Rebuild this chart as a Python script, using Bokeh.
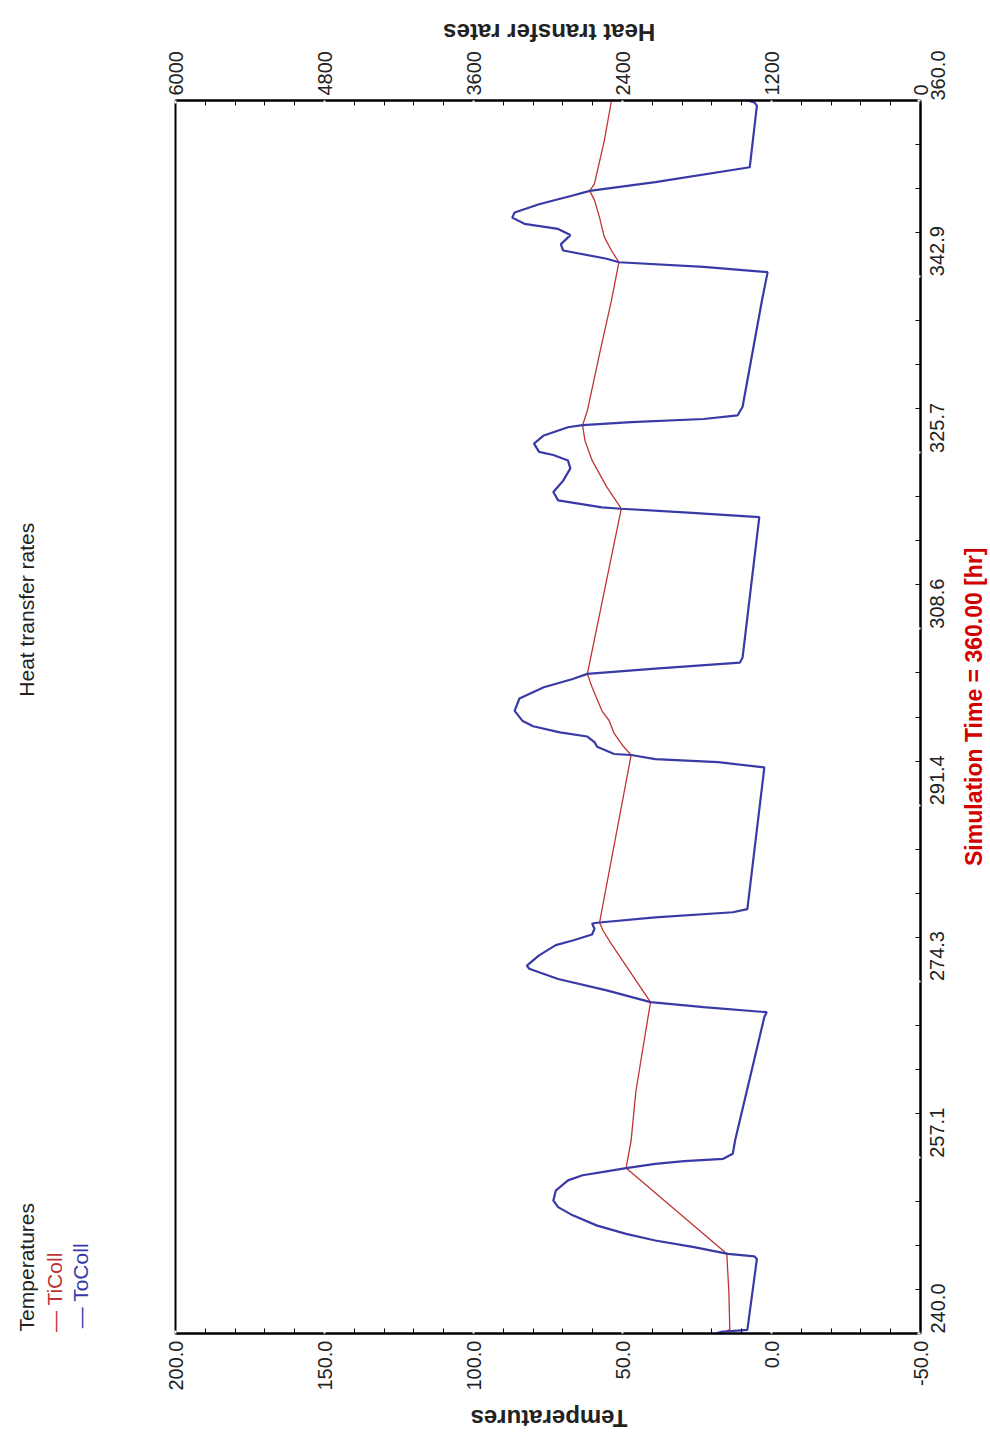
from math import pi
from bokeh.plotting import figure
from bokeh.models import Range1d, LinearAxis, FixedTicker, PrintfTickFormatter
from bokeh.embed import file_html
from bokeh.resources import INLINE

# ---- data ----
ti_time = [240.0, 240.4, 244.0, 247.75, 256.1, 258.8, 263.6, 272.25, 277.9, 279.2, 280.0,
           296.3, 297.1, 298.4, 299.66, 300.6, 302.9, 304.2, 320.27, 322.4, 324.97, 326.9,
           328.4, 329.8, 335.35, 340.54, 344.26, 345.4, 346.7, 348.6, 350.3, 351.2, 351.9,
           356.1, 360.0]
ti_temp = [16.5, 14.0, 14.3, 15.0, 48.8, 47.1, 45.5, 40.6, 53.7, 56.5, 57.7,
           47.1, 49.6, 52.8, 54.5, 56.9, 60.2, 61.8, 50.4, 55.3, 60.2, 62.6,
           63.4, 61.8, 57.7, 53.7, 51.2, 53.7, 56.1, 57.7, 59.4, 61.0, 59.4,
           56.1, 53.7]

to_time = [240.0, 240.15, 240.35, 247.26, 247.5, 247.75, 248.4, 249.05, 249.7, 250.5, 251.5,
           252.3, 252.94, 253.9, 254.9, 255.4, 255.7, 256.1, 256.5, 256.77, 257.0, 257.5,
           258.8, 270.8, 271.27, 271.76, 272.25, 273.4, 274.5, 275.5, 275.8, 276.8, 277.8,
           278.25, 278.83, 279.4, 279.9, 280.0, 280.5, 281.0, 281.3, 295.1, 295.6, 295.9,
           296.3, 296.4, 297.1, 297.55, 298.1, 298.5, 299.1, 299.6, 300.6, 301.8, 302.9,
           303.7, 304.2, 304.7, 305.3, 305.8, 319.45, 319.9, 320.27, 320.4, 321.08, 321.9,
           323.0, 324.2, 324.97, 325.5, 325.8, 326.6, 327.4, 328.2, 328.4, 328.7, 329.0,
           329.35, 330.2, 340.54, 343.3, 343.8, 344.26, 344.6, 345.4, 346.0, 346.9, 347.5,
           348.0, 348.6, 349.1, 349.9, 350.75, 351.2, 352.05, 353.5, 359.5, 359.8, 360.0]
to_temp = [19.0, 17.0, 8.1, 4.9, 5.7, 14.6, 26.0, 39.0, 48.8, 58.5, 66.7,
           71.6, 73.2, 72.4, 68.3, 63.4, 56.9, 48.8, 39.0, 29.3, 16.2, 13.0,
           12.2, 2.4, 1.6, 22.8, 40.6, 55.3, 71.6, 81.3, 82.1, 78.0, 72.4,
           66.7, 60.2, 59.4, 60.2, 57.7, 39.0, 13.0, 8.1, 2.4, 17.9, 39.0,
           47.1, 52.8, 58.5, 59.4, 61.8, 71.0, 80.0, 83.5, 86.2, 84.6, 76.4,
           66.7, 61.8, 39.0, 10.6, 9.7, 4.1, 28.0, 50.4, 56.9, 71.6, 73.2,
           69.9, 67.5, 68.3, 73.2, 78.0, 79.7, 76.4, 68.3, 63.4, 47.1, 22.8,
           11.4, 9.7, 3.2, 1.3, 22.8, 51.2, 55.3, 69.9, 70.7, 67.5, 71.6,
           82.9, 87.0, 86.2, 78.0, 66.7, 61.0, 39.0, 7.3, 4.9, 5.7, 8.1]

time_ticks = [240.0, 257.1, 274.3, 291.4, 308.6, 325.7, 342.9, 360.0]
temp_ticks = [200, 150, 100, 50, 0, -50]
heat_ticks = [6000, 4800, 3600, 2400, 1200, 0]

series_names = ["TiColl", "ToColl"]
series_colors = ["#c03434", "#3a3aa6"]

FONT = "Liberation Sans"

p = figure(frame_width=745, frame_height=1233,
           x_range=Range1d(200, -50), y_range=Range1d(240, 360),
           x_axis_location="below", y_axis_location="right",
           min_border_left=175, min_border_right=5, min_border_top=100, min_border_bottom=5,
           output_backend="svg", toolbar_location=None)
p.extra_x_ranges = {"heat": Range1d(6000, 0)}
heat_axis = LinearAxis(x_range_name="heat")
p.add_layout(heat_axis, "above")
temp_axis = p.below[0]
time_axis = p.right[0]

p.grid.visible = False
p.outline_line_color = "black"
p.outline_line_width = 2
p.background_fill_color = "white"
p.border_fill_color = "white"

def minor(ticks, n):
    out = []
    s = sorted(ticks)
    for a, b in zip(s[:-1], s[1:]):
        for k in range(1, n):
            out.append(a + (b - a) * k / n)
    return out

temp_axis.ticker = FixedTicker(ticks=temp_ticks, minor_ticks=minor(temp_ticks, 5))
temp_axis.formatter = PrintfTickFormatter(format="%.1f")
heat_axis.ticker = FixedTicker(ticks=heat_ticks, minor_ticks=minor(heat_ticks, 5))
heat_axis.formatter = PrintfTickFormatter(format="%d")
time_axis.ticker = FixedTicker(ticks=time_ticks, minor_ticks=minor(time_ticks, 4))
time_axis.formatter = PrintfTickFormatter(format="%.1f")

for ax in [temp_axis, heat_axis, time_axis]:
    ax.major_label_orientation = pi / 2
    ax.major_label_text_font = FONT
    ax.major_label_text_font_size = "20px"
    ax.major_label_text_color = "#222222"
    ax.major_label_standoff = 7
    ax.axis_line_width = 2
    ax.axis_line_color = "black"
    ax.major_tick_line_color = "white"
    ax.major_tick_line_width = 2
    ax.major_tick_in = 3
    ax.major_tick_out = 0
    ax.minor_tick_line_color = "black"
    ax.minor_tick_line_width = 1
    ax.minor_tick_in = 5
    ax.minor_tick_out = 0
heat_axis.major_label_standoff = 5
time_axis.major_label_standoff = 17

p.line(x=ti_temp, y=ti_time, color=series_colors[0], line_width=1.3)
p.line(x=to_temp, y=to_time, color=series_colors[1], line_width=2.2)

# texts outside the frame are written as tick labels of bare axes
def text_axis(side, labels, size, color, bold, orient, standoff):
    pos = list(labels.keys())
    ax = LinearAxis(ticker=FixedTicker(ticks=pos, minor_ticks=[]),
                    major_label_overrides=labels)
    ax.axis_line_color = None
    ax.major_tick_line_color = None
    ax.minor_tick_line_color = None
    ax.major_tick_in = 0
    ax.major_tick_out = 0
    ax.minor_tick_in = 0
    ax.minor_tick_out = 0
    ax.major_label_orientation = orient
    ax.major_label_standoff = standoff
    ax.major_label_text_font = FONT
    ax.major_label_text_font_size = size
    ax.major_label_text_color = color
    ax.major_label_text_font_style = "bold" if bold else "normal"
    p.add_layout(ax, side)
    return ax

# left: legend entries and plot title (stacked outward from the frame)
text_axis("left", {248.8: "\u2014 " + series_names[1]}, "21px", series_colors[1], False, pi / 2, 95)
text_axis("left", {247.9: "\u2014 " + series_names[0]}, "21px", series_colors[0], False, pi / 2, 0)
text_axis("left", {318.9: "Heat transfer rates", 252.7: "Temperatures"}, "21px", "#222222", False, pi / 2, 2)
# axis titles
text_axis("below", {101.0: "Temperatures"}, "24px", "#222222", True, pi, 25)
text_axis("above", {39.0: "Heat transfer rates"}, "24px", "#222222", True, pi, 16)
text_axis("right", {285.5: "Simulation Time = 360.00 [hr]"}, "23px", "#d40000", True, pi / 2, 20)

open("out.html", "w").write(file_html(p, INLINE))
